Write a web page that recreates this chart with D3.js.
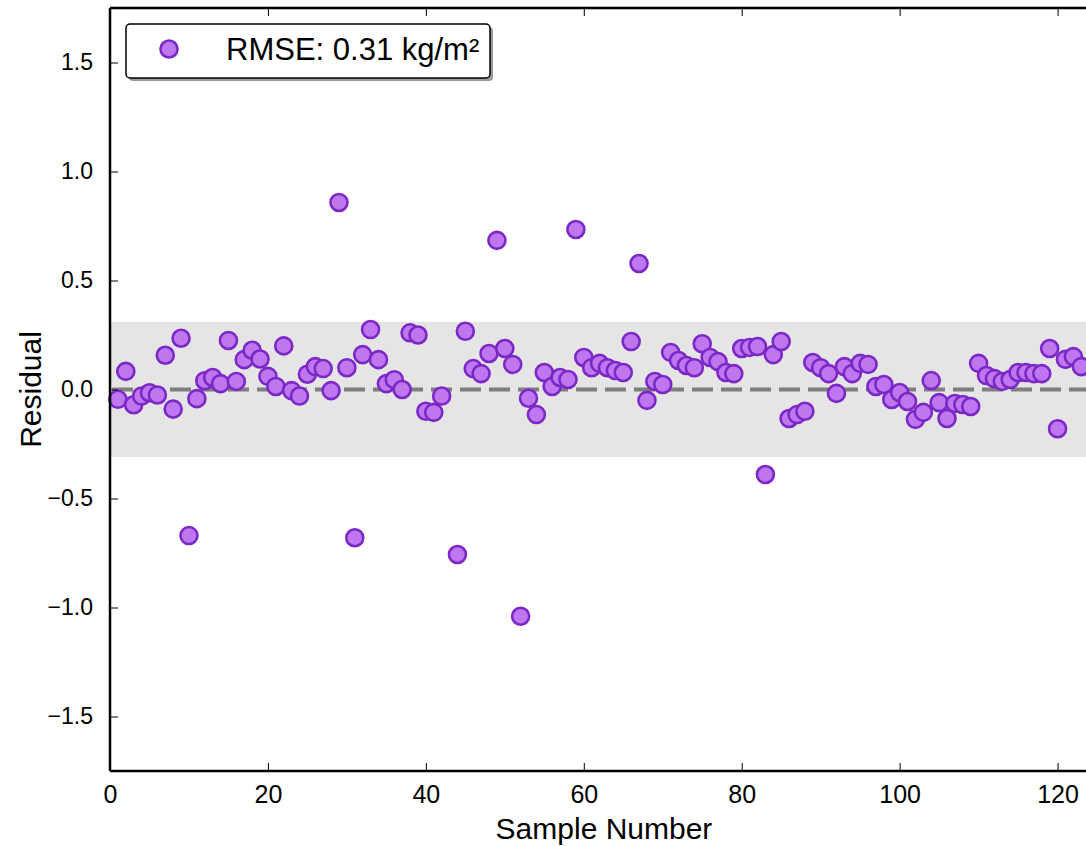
<!DOCTYPE html>
<html>
<head>
<meta charset="utf-8">
<script src="https://cdn.jsdelivr.net/npm/d3@7"></script>
<style>
  body { margin: 0; background: #fff; }
  text { font-family: "Liberation Sans", Arial, sans-serif; }
</style>
</head>
<body>
<svg width="1086" height="846"></svg>
<script>
// residual per sample number (sample 43 not visible in the plot)
var samples = d3.range(1, 124);
var residuals = [
  -0.045, 0.083, -0.07, -0.03, -0.015, -0.025, 0.157, -0.09, 0.235, -0.67,
  -0.042, 0.04, 0.055, 0.027, 0.225, 0.037, 0.137, 0.18, 0.14, 0.06,
  0.014, 0.2, -0.005, -0.03, 0.07, 0.105, 0.096, -0.005, 0.858, 0.1,
  -0.68, 0.16, 0.275, 0.137, 0.027, 0.045, 0.0, 0.26, 0.25, -0.1,
  -0.105, -0.03, null, -0.757, 0.267, 0.096, 0.073, 0.165, 0.684, 0.188,
  0.115, -1.04, -0.04, -0.115, 0.078, 0.014, 0.055, 0.046, 0.734, 0.147,
  0.1, 0.12, 0.1, 0.087, 0.078, 0.22, 0.578, -0.05, 0.037, 0.023,
  0.17, 0.133, 0.11, 0.1, 0.21, 0.147, 0.128, 0.078, 0.073, 0.188,
  0.193, 0.197, -0.39, 0.16, 0.22, -0.133, -0.115, -0.1, 0.124, 0.1,
  0.073, -0.018, 0.105, 0.073, 0.12, 0.115, 0.014, 0.023, -0.046, -0.014,
  -0.055, -0.137, -0.105, 0.041, -0.06, -0.133, -0.064, -0.069, -0.078, 0.12,
  0.064, 0.05, 0.037, 0.046, 0.078, 0.078, 0.073, 0.073, 0.188, -0.18,
  0.138, 0.151, 0.105
];
var rmse = 0.31;
var xTicks = [0, 20, 40, 60, 80, 100, 120];
var yTicks = [-1.5, -1.0, -0.5, 0.0, 0.5, 1.0, 1.5];
var legendLabel = "RMSE: 0.31 kg/m²";

var data = samples.map(function(s, i) { return {x: s, y: residuals[i]}; })
                  .filter(function(d) { return d.y !== null; });

var svg = d3.select("svg"),
    margin = {left: 110, right: 0, top: 8, bottom: 75},
    width = +svg.attr("width") - margin.left - margin.right,
    height = +svg.attr("height") - margin.top - margin.bottom;

var g = svg.append("g")
           .attr("transform", `translate(${margin.left},${margin.top})`);

var xScale = d3.scaleLinear().domain([0, 123.6]).range([0, width]);
var yScale = d3.scaleLinear().domain([-1.75, 1.75]).range([height, 0]);

var fmt = function(d) { return d3.format(".1f")(d).replace("-", "\u2212"); };

// shaded +/- RMSE band
g.append("rect")
  .attr("x", 0)
  .attr("width", width)
  .attr("y", yScale(rmse))
  .attr("height", yScale(-rmse) - yScale(rmse))
  .attr("fill", "#e5e5e5");

// zero line
g.append("line")
  .attr("x1", xScale(0) + 2)
  .attr("x2", width)
  .attr("y1", yScale(0))
  .attr("y2", yScale(0))
  .attr("stroke", "#7f7f7f")
  .attr("stroke-width", 4)
  .attr("stroke-dasharray", "21,8");

// points
g.selectAll(".dot")
  .data(data)
  .enter().append("circle")
  .attr("class", "dot")
  .attr("r", 8.5)
  .attr("cx", function(d) { return xScale(d.x); })
  .attr("cy", function(d) { return yScale(d.y); })
  .attr("fill", "#bf77f0")
  .attr("stroke", "#7b28c6")
  .attr("stroke-width", 2.6);

// axes (inward ticks)
var xAxis = g.append("g")
  .attr("transform", `translate(0,${height})`)
  .call(d3.axisBottom(xScale).tickValues(xTicks).tickSize(-8).tickPadding(14));
var xTop = g.append("g")
  .call(d3.axisTop(xScale).tickValues(xTicks).tickSize(-8).tickFormat(""));
var yAxis = g.append("g")
  .call(d3.axisLeft(yScale).tickValues(yTicks).tickSize(-8).tickPadding(17).tickFormat(fmt));

[xAxis, xTop, yAxis].forEach(function(ax) {
  ax.select(".domain").attr("stroke", "#000").attr("stroke-width", 2.5);
  ax.selectAll(".tick line").attr("stroke", "#000").attr("stroke-width", 1);
  ax.selectAll(".tick text")
    .attr("fill", "#000")
    .style("font-family", "'Liberation Sans', Arial, sans-serif");
});
xAxis.selectAll(".tick text").style("font-size", "25px");
yAxis.selectAll(".tick text").style("font-size", "23px");
xTop.select(".domain").attr("d", `M0,0H${width}`);
xAxis.select(".domain").attr("d", `M0,0H${width}`);
yAxis.select(".domain").attr("d", `M0,0V${height}`);

// axis labels
svg.append("text")
  .attr("x", margin.left + width / 2 + 6)
  .attr("y", 839)
  .attr("text-anchor", "middle")
  .style("font-size", "30px")
  .text("Sample Number");

svg.append("text")
  .attr("transform", `translate(41,${margin.top + yScale(0)}) rotate(-90)`)
  .attr("text-anchor", "middle")
  .style("font-size", "30px")
  .text("Residual");

// legend
var legend = svg.append("g").attr("transform", "translate(126,24)");
legend.append("rect")
  .attr("x", 3).attr("y", 3)
  .attr("width", 364).attr("height", 54)
  .attr("rx", 4)
  .attr("fill", "#9a9a9a");
legend.append("rect")
  .attr("width", 364).attr("height", 54)
  .attr("rx", 4)
  .attr("fill", "#fff")
  .attr("stroke", "#000")
  .attr("stroke-width", 1.5);
legend.append("circle")
  .attr("cx", 43).attr("cy", 25)
  .attr("r", 8.5)
  .attr("fill", "#bf77f0")
  .attr("stroke", "#7b28c6")
  .attr("stroke-width", 2.6);
legend.append("text")
  .attr("x", 100).attr("y", 36)
  .style("font-size", "31px")
  .text(legendLabel);
</script>
</body>
</html>
